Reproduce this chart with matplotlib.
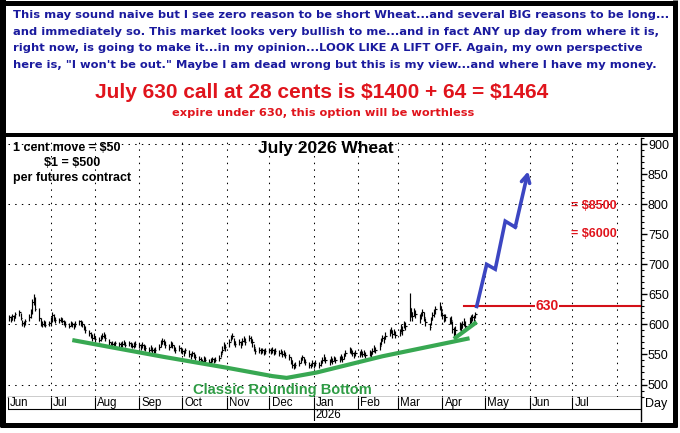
import pandas as pd
import matplotlib
matplotlib.use('Agg')
import matplotlib.pyplot as plt
import matplotlib.dates as mdates
from matplotlib.lines import Line2D

plt.rcParams['text.parse_math'] = False

W, H = 680, 433

# daily HLC bars, July 2026 wheat (cents/bu), Jun 2 2025 .. Apr 24 2026
closes = (
    [612, 608, 614, 611, 617, 620, 610, 602, 600, 606, 613, 620, 638, 644, 626, 610, 603, 600, 604, 599, 602]
    + [606, 615, 611, 608, 607, 610, 606, 604, 601, 598, 602, 600, 597, 601, 605, 603, 600, 596, 590, 586, 582, 578, 580]
    + [576, 574, 577, 581, 583, 578, 571, 567, 568, 566, 569, 567, 565, 568, 570, 566, 569, 567, 564, 566, 568]
    + [565, 562, 566, 563, 560, 558, 561, 557, 555, 558, 562, 568, 573, 571, 566, 562, 568, 565, 560, 557, 561, 558]
    + [556, 553, 557, 551, 548, 552, 549, 545, 542, 540, 539, 543, 541, 538, 540, 542, 539, 541, 544, 551, 558, 565, 562]
    + [570, 578, 581, 572, 568, 570, 566, 572, 575, 571, 578, 575, 570, 562, 556, 558, 555, 557, 554, 556]
    + [557, 555, 558, 554, 556, 553, 555, 551, 553, 549, 546, 540, 533, 530, 532, 536, 541, 545, 540, 537, 533, 531, 535]
    + [533, 536, 532, 535, 540, 545, 541, 538, 542, 539, 544, 541, 543, 546, 542, 548, 553, 558, 555, 552, 549, 553]
    + [551, 554, 550, 552, 549, 553, 551, 556, 560, 557, 564, 572, 578, 575, 581, 586, 590, 584, 588, 583]
    + [586, 595, 590, 600, 598, 628, 620, 614, 622, 618, 610, 616, 621, 612, 604, 596, 607, 615, 620, 625, 631, 622]
    + [615, 610, 612, 606, 608, 592, 586, 590, 598, 594, 600, 604, 598, 606, 609, 612, 608, 617]
)
highs = (
    [616, 614, 618, 616, 621, 624, 619, 608, 605, 609, 617, 625, 642, 650, 645, 627, 611, 606, 607, 605, 606]
    + [612, 620, 617, 612, 611, 613, 611, 608, 606, 603, 605, 604, 602, 605, 608, 607, 605, 601, 597, 591, 588, 584, 585]
    + [581, 579, 582, 586, 587, 584, 576, 571, 572, 570, 573, 571, 570, 572, 574, 571, 573, 571, 569, 570, 572]
    + [569, 567, 570, 568, 565, 563, 565, 562, 560, 563, 567, 574, 578, 576, 572, 567, 572, 570, 565, 562, 565, 563]
    + [561, 558, 561, 557, 553, 556, 554, 550, 547, 545, 543, 547, 545, 543, 544, 546, 544, 546, 549, 556, 564, 571, 568]
    + [576, 583, 586, 578, 573, 575, 572, 577, 580, 577, 582, 581, 576, 568, 561, 562, 560, 561, 559, 560]
    + [561, 560, 562, 559, 560, 558, 559, 556, 557, 554, 551, 546, 540, 536, 537, 541, 546, 549, 546, 542, 538, 536, 540]
    + [538, 540, 537, 540, 545, 550, 546, 543, 547, 544, 548, 546, 548, 551, 547, 553, 558, 563, 561, 557, 554, 558]
    + [556, 559, 555, 557, 554, 558, 556, 561, 566, 562, 570, 578, 583, 581, 587, 592, 595, 590, 593, 589]
    + [592, 600, 597, 605, 604, 652, 628, 621, 627, 624, 617, 621, 626, 620, 611, 603, 612, 620, 626, 630, 637, 630]
    + [621, 618, 617, 613, 614, 605, 595, 597, 604, 602, 606, 611, 606, 612, 615, 618, 616, 621]
)
lows = (
    [606, 604, 607, 606, 610, 614, 607, 598, 596, 599, 605, 611, 618, 632, 622, 606, 598, 596, 597, 595, 597]
    + [598, 604, 606, 603, 602, 604, 602, 599, 596, 594, 597, 595, 593, 596, 599, 598, 595, 590, 585, 580, 577, 573, 575]
    + [571, 570, 572, 576, 578, 572, 566, 562, 563, 562, 564, 563, 561, 563, 565, 562, 564, 562, 560, 561, 563]
    + [561, 557, 561, 558, 555, 553, 556, 552, 550, 553, 557, 562, 567, 565, 561, 557, 562, 560, 555, 552, 556, 553]
    + [551, 548, 552, 546, 543, 547, 544, 540, 537, 536, 535, 538, 537, 534, 535, 537, 535, 537, 539, 545, 552, 559, 556]
    + [563, 572, 575, 566, 563, 565, 561, 566, 570, 566, 572, 569, 563, 556, 551, 553, 550, 552, 549, 551]
    + [552, 550, 553, 549, 551, 548, 550, 546, 548, 544, 541, 534, 528, 526, 527, 531, 536, 540, 535, 532, 528, 527, 530]
    + [528, 531, 527, 530, 535, 539, 536, 533, 537, 534, 539, 536, 538, 541, 537, 543, 547, 552, 550, 547, 544, 548]
    + [546, 549, 545, 547, 544, 548, 546, 550, 554, 552, 558, 566, 572, 569, 575, 580, 585, 578, 582, 577]
    + [580, 588, 582, 594, 591, 605, 612, 606, 614, 610, 602, 609, 614, 605, 598, 590, 599, 608, 613, 618, 624, 614]
    + [609, 604, 606, 600, 601, 585, 579, 583, 591, 588, 594, 597, 592, 600, 603, 606, 602, 610]
)

# hand-drawn annotations
bottom_dates = ['2025-07-16', '2025-09-18', '2025-11-01', '2025-12-03', '2025-12-13',
                '2026-01-03', '2026-02-18', '2026-04-20']
bottom_vals = [574, 546, 528, 514, 511, 520, 547, 577]
recent_dates = ['2026-04-09', '2026-04-25']
recent_vals = [576, 604]
arrow_dates = ['2026-04-25', '2026-05-02', '2026-05-08', '2026-05-15', '2026-05-22', '2026-05-31']
arrow_vals = [630, 700, 692, 772, 762, 855]
strike = 630

blurb = [
    'This may sound naive but I see zero reason to be short Wheat...and several BIG reasons to be long...',
    'and immediately so. This market looks very bullish to me...and in fact ANY up day from where it is,',
    'right now, is going to make it...in my opinion...LOOK LIKE A LIFT OFF. Again, my own perspective',
    'here is, "I won\'t be out." Maybe I am dead wrong but this is my view...and where I have my money.',
]

BLUE = '#1a1a9e'
RED = '#e0141c'
GREEN = '#38a852'
ARROW = '#3c46c2'


def fx(x):
    return x / W


def fy(y):
    return 1 - y / H


def dn(s):
    return mdates.date2num(pd.Timestamp(s))


fig = plt.figure(figsize=(6.8, 4.33), dpi=100)
fig.patch.set_facecolor('white')

# header text
for i, line in enumerate(blurb):
    fig.text(fx(13), fy(15 + i * 16.7), line, color=BLUE, fontsize=8.25,
             fontweight='bold', family='DejaVu Sans', ha='left', va='center')
fig.text(fx(322), fy(92), 'July 630 call at 28 cents is $1400 + 64 = $1464', color=RED,
         fontsize=15, fontweight='bold', family='Liberation Sans', ha='center', va='center')
fig.text(fx(323), fy(113), 'expire under 630, this option will be worthless', color=RED,
         fontsize=8.2, fontweight='bold', family='DejaVu Sans', ha='center', va='center')

# main price panel
n = min(len(closes), len(highs), len(lows))
dates = mdates.date2num(pd.bdate_range('2025-06-02', periods=n))
x0, x1 = dn('2025-06-01'), dn('2026-08-18')

ax = fig.add_axes([fx(8), fy(397), (641 - 8) / W, (397 - 138) / H])
ax.set_xlim(x0, x1)
ax.set_ylim(479.2, 910.5)

months = pd.date_range('2025-06-01', '2026-08-01', freq='MS')
dots = (0, (1.4, 5))
for m in months[1:]:
    ax.axvline(dn(m), color='black', lw=0.75, ls=dots, zorder=0)
for v in range(500, 901, 100):
    ax.axhline(v, color='black', lw=0.75, ls=dots, zorder=0)

ax.vlines(dates, lows[:n], highs[:n], color='black', lw=0.85, zorder=3)
ax.hlines(closes[:n], dates, dates + 0.9, color='black', lw=0.85, zorder=3)

ax.plot([dn(d) for d in bottom_dates], bottom_vals,
        color=GREEN, lw=3, solid_capstyle='butt', zorder=4)
ax.plot([dn(d) for d in recent_dates], recent_vals,
        color=GREEN, lw=3, solid_capstyle='butt', zorder=4)

ax.plot([dn('2026-04-16'), x1], [strike, strike], color='#d41018', lw=1.5, zorder=4)
ax.text(dn('2026-06-13'), strike, str(strike), color=RED, fontsize=10, fontweight='bold',
        family='Liberation Sans', ha='center', va='center', zorder=5,
        bbox=dict(facecolor='white', edgecolor='none', pad=0.3))

ad = [dn(d) for d in arrow_dates]
ax.plot(ad[:-1], arrow_vals[:-1], color=ARROW, lw=2.6, solid_joinstyle='miter', zorder=5)
ax.annotate('', xy=(ad[-1], arrow_vals[-1]), xytext=(ad[-2], arrow_vals[-2]),
            arrowprops=dict(arrowstyle='->,head_length=0.55,head_width=0.3',
                            color=ARROW, lw=2.6, shrinkA=0, shrinkB=0), zorder=5)

ax.text(dn('2026-06-30'), 797, '= $8500', color=RED, fontsize=9, fontweight='bold',
        family='Liberation Sans', ha='left', va='center')
ax.text(dn('2026-06-30'), 750, '= $6000', color=RED, fontsize=9, fontweight='bold',
        family='Liberation Sans', ha='left', va='center')
ax.text(dn('2025-12-10'), 491, 'Classic Rounding Bottom', color='#2f9c45', fontsize=10.5,
        fontweight='bold', family='Liberation Sans', ha='center', va='center')

ax.yaxis.tick_right()
ax.set_yticks(range(500, 901, 50))
ax.set_yticks(range(480, 911, 10), minor=True)
ax.tick_params(axis='y', which='major', length=4, width=1, pad=1, labelsize=9)
ax.tick_params(axis='y', which='minor', length=2, width=0.8)
for lab in ax.get_yticklabels():
    lab.set_family('Liberation Sans')
ax.set_xticks([])
for s in ['top', 'left']:
    ax.spines[s].set_visible(False)
ax.spines['right'].set_linewidth(1)
ax.spines['bottom'].set_linewidth(1)

fig.text(fx(13), fy(148), '1 cent move = $50', fontsize=9, fontweight='bold',
         family='Liberation Sans', ha='left', va='center')
fig.text(fx(72), fy(163), '$1 = $500', fontsize=9, fontweight='bold',
         family='Liberation Sans', ha='center', va='center')
fig.text(fx(13), fy(178), 'per futures contract', fontsize=9, fontweight='bold',
         family='Liberation Sans', ha='left', va='center')
fig.text(fx(326), fy(149), 'July 2026 Wheat', fontsize=12.5, fontweight='bold',
         family='Liberation Sans', ha='center', va='center')

# date rows under the chart
axd = fig.add_axes([fx(8), fy(421), (641 - 8) / W, (421 - 397) / H])
axd.set_xlim(x0, x1)
axd.set_ylim(0, 1)
axd.set_xticks([])
axd.set_yticks([])
for s in ['top', 'left', 'bottom']:
    axd.spines[s].set_visible(False)
axd.spines['right'].set_linewidth(1)
axd.axhline(0.5, color='black', lw=0.8)
for m in months[:-1]:
    axd.vlines(dn(m), 0.5, 1, color='black', lw=0.8)
    axd.text(dn(m) + 1.5, 0.74, m.strftime('%b'), fontsize=8.3, family='Liberation Sans',
             ha='left', va='center')
jan = pd.Timestamp('2026-01-01')
axd.vlines(dn(jan), 0, 0.5, color='black', lw=0.8)
axd.text(dn(jan) + 1.5, 0.24, '2026', fontsize=8.3, family='Liberation Sans',
         ha='left', va='center')
fig.text(fx(645), fy(404), 'Day', fontsize=9, family='Liberation Sans', ha='left', va='center')

# black frame
frame = [
    ([3, 3], [0, 427], 6),
    ([674.5, 674.5], [0, 427], 5),
    ([0, 677], [2.5, 2.5], 5),
    ([0, 677], [424.5, 424.5], 5),
    ([0, 677], [135, 135], 4),
]
for xs, ys, w in frame:
    fig.add_artist(Line2D([fx(v) for v in xs], [fy(v) for v in ys], color='black',
                          lw=w * 0.72, solid_capstyle='butt'))

fig.savefig('out.png', dpi=100)
